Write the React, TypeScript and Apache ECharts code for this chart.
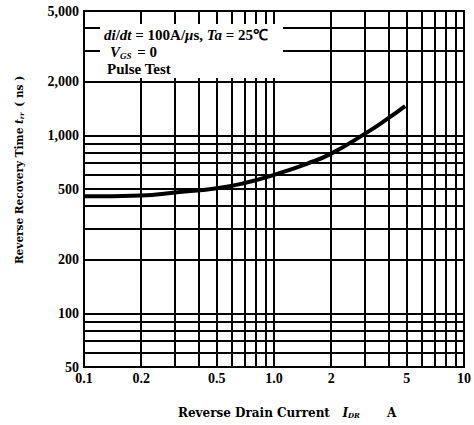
import React, { useEffect, useRef } from "react";
import * as echarts from "echarts";

// Reverse recovery time vs. reverse drain current
const currentA = [0.1, 0.2, 0.3, 0.5, 0.7, 1.0, 1.5, 2, 3, 4, 4.9];
const recoveryNs = [455, 460, 478, 505, 540, 600, 695, 790, 1020, 1250, 1460];

const xTickValues = [0.1, 0.2, 0.5, 1, 2, 5, 10];
const xTickLabels = ["0.1", "0.2", "0.5", "1.0", "2", "5", "10"];
const yTickValues = [50, 100, 200, 500, 1000, 2000, 5000];
const yTickLabels = ["50", "100", "200", "500", "1,000", "2,000", "5,000"];

// log-paper rulings inside the frame
const xGridValues = [0.2, 0.3, 0.4, 0.5, 0.6, 0.7, 0.8, 0.9, 1, 2, 3, 4, 5, 6, 7, 8, 9];
const yGridValues = [60, 70, 80, 90, 100, 200, 300, 400, 500, 600, 700, 800, 900, 1000, 2000, 3000, 4000];

const SERIF = "'Liberation Serif', 'Times New Roman', serif";
const WIDE_SERIF = "'DejaVu Serif', serif";

function labelFor(values: number[], labels: string[], v: number): string {
  for (let i = 0; i < values.length; i++) {
    if (Math.abs(values[i] - v) / values[i] < 1e-6) return labels[i];
  }
  return "";
}

export default function App() {
  const ref = useRef<HTMLDivElement>(null);

  useEffect(() => {
    if (!ref.current) return;
    const chart = echarts.init(ref.current, null, { renderer: "svg" });

    const gridLine = { color: "#000", width: 2, type: "solid" as const };
    const italic = (size: number, family: string) => ({
      fontStyle: "italic",
      fontWeight: "bold",
      fontSize: size,
      fontFamily: family,
      fill: "#000",
    });

    chart.setOption({
      animation: false,
      backgroundColor: "#fff",
      grid: {
        left: 84,
        right: 9,
        top: 11,
        bottom: 58,
        show: true,
        borderColor: "#000",
        borderWidth: 2,
        backgroundColor: "transparent",
      },
      xAxis: {
        type: "log",
        logBase: 10,
        min: 0.1,
        max: 10,
        axisLine: { show: false },
        axisTick: { show: false },
        splitLine: { show: false },
        axisLabel: {
          customValues: xTickValues,
          formatter: (v: number) => labelFor(xTickValues, xTickLabels, v),
          color: "#000",
          fontFamily: SERIF,
          fontWeight: "bold",
          fontSize: 14,
          margin: 4,
          showMinLabel: true,
          showMaxLabel: true,
        },
      },
      yAxis: {
        type: "log",
        logBase: 10,
        min: 50,
        max: 5000,
        axisLine: { show: false },
        axisTick: { show: false },
        splitLine: { show: false },
        axisLabel: {
          customValues: yTickValues,
          formatter: (v: number) => labelFor(yTickValues, yTickLabels, v),
          color: "#000",
          fontFamily: SERIF,
          fontWeight: "bold",
          fontSize: 14,
          margin: 5,
          showMinLabel: true,
          showMaxLabel: true,
        },
      },
      series: [
        {
          name: "rulings",
          type: "line",
          data: [],
          z: 1,
          silent: true,
          markLine: {
            silent: true,
            symbol: ["none", "none"],
            label: { show: false },
            lineStyle: gridLine,
            emphasis: { disabled: true },
            data: [
              ...xGridValues.map((v) => ({ xAxis: v })),
              ...yGridValues.map((v) => ({ yAxis: v })),
            ],
          },
        },
        {
          name: "trr",
          type: "line",
          smooth: true,
          showSymbol: false,
          z: 5,
          lineStyle: { color: "#000", width: 4 },
          data: currentA.map((x, i) => [x, recoveryNs[i]]),
        },
      ],
      graphic: [
        {
          type: "rect",
          z: 50,
          shape: { x: 100, y: 24, width: 183, height: 54 },
          style: { fill: "#fff" },
        },
        {
          type: "text",
          z: 51,
          x: 104,
          y: 35,
          style: {
            text: "{i|di}/{i|dt} = 100A/{i|μ}s, {i|Ta} = 25℃",
            fill: "#000",
            font: `bold 15px ${SERIF}`,
            verticalAlign: "middle",
            rich: { i: italic(15, SERIF) },
          },
        },
        {
          type: "text",
          z: 51,
          x: 110,
          y: 52,
          style: {
            text: "{i|V}{s|GS} = 0",
            fill: "#000",
            font: `bold 15px ${SERIF}`,
            verticalAlign: "middle",
            rich: {
              i: italic(15, SERIF),
              s: { ...italic(9, SERIF), padding: [7, 2, 0, 0] },
            },
          },
        },
        {
          type: "text",
          z: 51,
          x: 107,
          y: 69,
          style: {
            text: "Pulse Test",
            fill: "#000",
            font: `bold 15px ${SERIF}`,
            verticalAlign: "middle",
          },
        },
        {
          type: "text",
          z: 51,
          x: 19,
          y: 170,
          rotation: Math.PI / 2,
          style: {
            text: "Reverse Recovery Time {i|t}{s|rr} ( ns )",
            fill: "#000",
            font: `bold 10.5px ${WIDE_SERIF}`,
            align: "center",
            verticalAlign: "middle",
            rich: {
              i: italic(10.5, WIDE_SERIF),
              s: { ...italic(6.5, WIDE_SERIF), padding: [5, 2, 0, 0] },
            },
          },
        },
        {
          type: "text",
          z: 51,
          x: 178,
          y: 413,
          style: {
            text: "Reverse Drain Current   {i|I}{s|DR}      A",
            fill: "#000",
            font: `bold 12px ${WIDE_SERIF}`,
            verticalAlign: "middle",
            rich: {
              i: italic(12, WIDE_SERIF),
              s: { ...italic(7, WIDE_SERIF), padding: [5, 2, 0, 0] },
            },
          },
        },
      ],
    });

    return () => chart.dispose();
  }, []);

  return (
    <div
      ref={ref}
      style={{ position: "absolute", left: 0, top: 0, width: 474, height: 425 }}
    />
  );
}
